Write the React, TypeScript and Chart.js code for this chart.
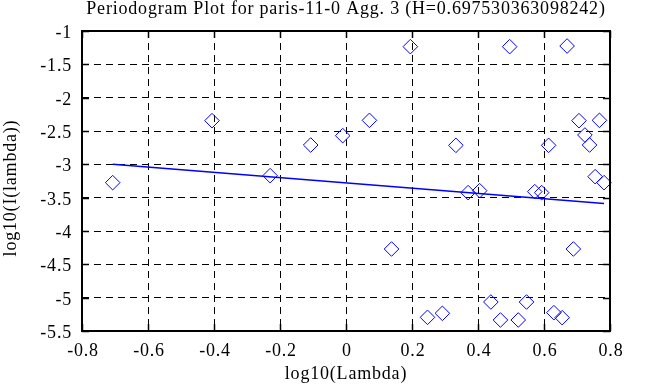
import React, { useEffect, useRef } from "react";
import { Chart, registerables } from "chart.js";

Chart.register(...registerables);

const titleText = "Periodogram Plot for paris-11-0 Agg. 3 (H=0.697530363098242)";
const xAxisTitle = "log10(Lambda)";
const yAxisTitle = "log10(I(lambda))";

const xTickValues = [-0.8, -0.6, -0.4, -0.2, 0, 0.2, 0.4, 0.6, 0.8];
const xTickLabels = ["-0.8", "-0.6", "-0.4", "-0.2", "0", "0.2", "0.4", "0.6", "0.8"];
const yTickValues = [-1, -1.5, -2, -2.5, -3, -3.5, -4, -4.5, -5, -5.5];
const yTickLabels = ["-1", "-1.5", "-2", "-2.5", "-3", "-3.5", "-4", "-4.5", "-5", "-5.5"];

const logLambda = [
  -0.707, -0.406, -0.23, -0.107, -0.01, 0.071, 0.138, 0.195, 0.247, 0.292, 0.333,
  0.37, 0.405, 0.439, 0.468, 0.496, 0.522, 0.547, 0.572, 0.593, 0.614, 0.63,
  0.655, 0.67, 0.689, 0.706, 0.724, 0.738, 0.755, 0.768, 0.782,
];
const logI = [
  -3.275, -2.345, -3.17, -2.71, -2.57, -2.34, -4.27, -1.235, -5.295, -5.235, -2.715,
  -3.425, -3.395, -5.065, -5.335, -1.235, -5.335, -5.065, -3.41, -3.425, -2.715, -5.225,
  -5.3, -1.225, -4.27, -2.345, -2.56, -2.71, -3.185, -2.34, -3.275,
];

const fitX = [-0.707, 0.782];
const fitY = [-3.0, -3.588];

const FONT = '18px "Liberation Serif", "Times New Roman", serif';

const gnuplotPlugin = {
  id: "gnuplotFrame",
  afterDraw(chart: any) {
    const { ctx, chartArea: a, scales } = chart;
    const xs = scales.x;
    const ys = scales.y;
    ctx.save();
    ctx.setLineDash([]);
    ctx.strokeStyle = "#000";
    ctx.lineWidth = 2;
    ctx.strokeRect(a.left, a.top, a.right - a.left, a.bottom - a.top);

    ctx.lineWidth = 1.5;
    ctx.beginPath();
    xTickValues.forEach((v) => {
      const px = Math.round(xs.getPixelForValue(v)) + 0.5;
      ctx.moveTo(px, a.bottom);
      ctx.lineTo(px, a.bottom - 7);
      ctx.moveTo(px, a.top);
      ctx.lineTo(px, a.top + 7);
    });
    yTickValues.forEach((v) => {
      const py = Math.round(ys.getPixelForValue(v)) + 0.5;
      ctx.moveTo(a.left, py);
      ctx.lineTo(a.left + 7, py);
      ctx.moveTo(a.right, py);
      ctx.lineTo(a.right - 7, py);
    });
    ctx.stroke();

    ctx.fillStyle = "#000";
    ctx.font = FONT;
    try {
      (ctx as any).letterSpacing = "0.8px";
    } catch (e) {}

    ctx.textBaseline = "alphabetic";
    ctx.textAlign = "right";
    yTickValues.forEach((v, i) => {
      const py = ys.getPixelForValue(v);
      ctx.fillText(yTickLabels[i], 72, py + 7);
    });

    ctx.textAlign = "center";
    xTickValues.forEach((v, i) => {
      const px = xs.getPixelForValue(v);
      ctx.fillText(xTickLabels[i], px + 1, 356);
    });

    const cx = (a.left + a.right) / 2;
    ctx.fillText(titleText, cx, 13.5);
    ctx.fillText(xAxisTitle, cx, 379);

    ctx.translate(16, 188);
    ctx.rotate(-Math.PI / 2);
    ctx.fillText(yAxisTitle, 0, 0);
    ctx.restore();
  },
};

export default function App() {
  const canvasRef = useRef<HTMLCanvasElement | null>(null);

  useEffect(() => {
    if (!canvasRef.current) return;
    const chart = new Chart(canvasRef.current, {
      type: "scatter",
      data: {
        datasets: [
          {
            label: "fit",
            data: fitX.map((x, i) => ({ x, y: fitY[i] })),
            showLine: true,
            borderColor: "#0000ff",
            borderWidth: 1.5,
            pointRadius: 0,
            pointHoverRadius: 0,
            clip: false,
          } as any,
          {
            label: "periodogram",
            data: logLambda.map((x, i) => ({ x, y: logI[i] })),
            pointStyle: "rectRot",
            pointRadius: 7.3,
            pointHoverRadius: 7.3,
            borderColor: "#0000ff",
            backgroundColor: "rgba(0,0,0,0)",
            borderWidth: 1,
            clip: false,
          } as any,
        ],
      },
      options: {
        animation: false,
        responsive: false,
        devicePixelRatio: 1,
        events: [],
        layout: { padding: { top: 31, right: 43, left: 0, bottom: 0 } },
        plugins: {
          legend: { display: false },
          title: { display: false },
          tooltip: { enabled: false },
        },
        scales: {
          x: {
            type: "linear",
            min: -0.8,
            max: 0.8,
            afterBuildTicks: (scale: any) => {
              scale.ticks = xTickValues.map((v) => ({ value: v }));
            },
            afterFit: (scale: any) => {
              scale.height = 56;
            },
            ticks: { display: false },
            grid: { color: "#000", lineWidth: 1, drawTicks: false },
            border: { display: false, dash: [7, 5] },
          },
          y: {
            type: "linear",
            min: -5.5,
            max: -1,
            afterBuildTicks: (scale: any) => {
              scale.ticks = yTickValues.map((v) => ({ value: v }));
            },
            afterFit: (scale: any) => {
              scale.width = 82;
            },
            ticks: { display: false },
            grid: { color: "#000", lineWidth: 1, drawTicks: false },
            border: { display: false, dash: [7, 5] },
          },
        },
      },
      plugins: [gnuplotPlugin],
    } as any);
    return () => chart.destroy();
  }, []);

  return (
    <div style={{ position: "absolute", left: 0, top: 0, width: 653, height: 387, background: "#fff" }}>
      <canvas ref={canvasRef} width={653} height={387} style={{ display: "block", width: 653, height: 387 }} />
    </div>
  );
}
